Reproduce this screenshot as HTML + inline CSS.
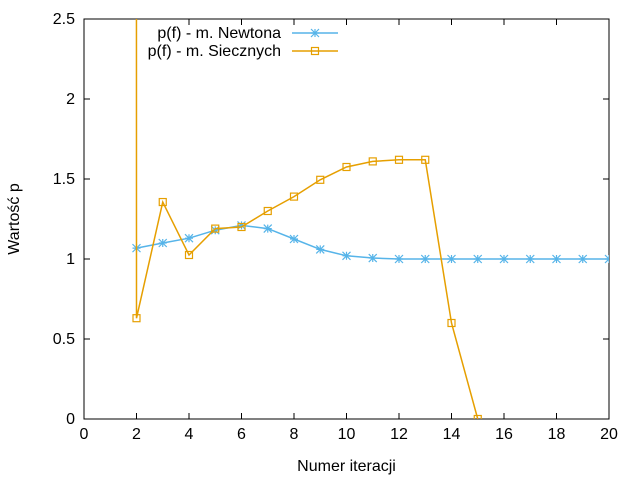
<!DOCTYPE html>
<html><head><meta charset="utf-8"><style>
body{margin:0;background:#fff}
svg{display:block;font-family:"Liberation Sans",sans-serif;font-size:16px}
</style></head><body>
<svg id="c" width="640" height="480"></svg>
<script>
const xTicks=[0,2,4,6,8,10,12,14,16,18,20];
const yTicks=[0,0.5,1,1.5,2,2.5];
const yTickLabels=["0","0.5","1","1.5","2","2.5"];
const newtonX=[2,3,4,5,6,7,8,9,10,11,12,13,14,15,16,17,18,19,20];
const newtonY=[1.068,1.10,1.13,1.18,1.21,1.19,1.125,1.06,1.02,1.006,1,1,1,1,1,1,1,1,1];
const secantX=[1,2,3,4,5,6,7,8,9,10,11,12,13,14,15];
const secantY=[1000,0.63,1.356,1.025,1.19,1.2,1.30,1.39,1.495,1.575,1.61,1.62,1.62,0.60,0];
const L=84,R=609,T=19,B=419;
const sx=v=>L+(v-0)/20*(R-L);
const sy=v=>B-(v-0)/2.5*(B-T);
const NS="http://www.w3.org/2000/svg";
const svg=document.getElementById('c');
function mk(t,a,p){const e=document.createElementNS(NS,t);for(const k in a)e.setAttribute(k,a[k]);(p||svg).appendChild(e);return e;}
const defs=mk('defs',{});const cp=mk('clipPath',{id:'pc'},defs);mk('rect',{x:L,y:T,width:R-L,height:B-T},cp);
xTicks.forEach(v=>{const x=sx(v);
 const t=mk('line',{x1:x,y1:B,x2:x,y2:B-6,stroke:'#000'});
 
 mk('line',{x1:x,y1:T,x2:x,y2:T+6,stroke:'#000'});
 const l=mk('text',{x:x,y:B+20,'text-anchor':'middle'});l.textContent=v;
 });
yTicks.forEach((v,i)=>{const y=sy(v);
 const t=mk('line',{x1:L,y1:y,x2:L+6,y2:y,stroke:'#000'});
 
 mk('line',{x1:R,y1:y,x2:R-6,y2:y,stroke:'#000'});
 const l=mk('text',{x:L-9,y:y+5,'text-anchor':'end'});l.textContent=yTickLabels[i];
 });
const bd=mk('rect',{x:L,y:T,width:R-L,height:B-T,fill:'none',stroke:'#000'});

const xt=mk('text',{x:(L+R)/2,y:471,'text-anchor':'middle'});xt.textContent='Numer iteracji';

const yt=mk('text',{x:0,y:0,'text-anchor':'middle',transform:'translate(19,219) rotate(-90)'});yt.textContent='Wartość p';

function star(g,x,y,c){mk('path',{d:`M${x-4},${y-4}L${x+4},${y+4}M${x-4},${y+4}L${x+4},${y-4}M${x-4},${y}L${x+4},${y}M${x},${y-4}L${x},${y+4}`,stroke:c,'stroke-width':1.2},g);}
function sq(g,x,y,c){mk('rect',{x:x-3.5,y:y-3.5,width:7,height:7,fill:'none',stroke:c,'stroke-width':1.2},g);}
function series(xs,ys,c,mark,name){
 const g=mk('g',{'clip-path':'url(#pc)'});
 
 mk('polyline',{points:xs.map((x,i)=>sx(x)+','+sy(ys[i])).join(' '),fill:'none',stroke:c,'stroke-width':1.5},g);
 xs.forEach((x,i)=>mark(g,sx(x),sy(ys[i]),c));
}
series(newtonX,newtonY,'#56b4e9',star,'series-newton');
series(secantX,secantY,'#e69f00',sq,'series-secant');
const lg=mk('g',{});
[['p(f) - m. Newtona','#56b4e9',star,33],['p(f) - m. Siecznych','#e69f00',sq,51]].forEach(e=>{
 const g=mk('g',{},lg);
 const t=mk('text',{x:281,y:e[3]+5,'text-anchor':'end'},g);t.textContent=e[0];
 mk('line',{x1:292,y1:e[3],x2:338,y2:e[3],stroke:e[1],'stroke-width':1.5},g);
 e[2](g,315,e[3],e[1]);
});
</script>
</body></html>
